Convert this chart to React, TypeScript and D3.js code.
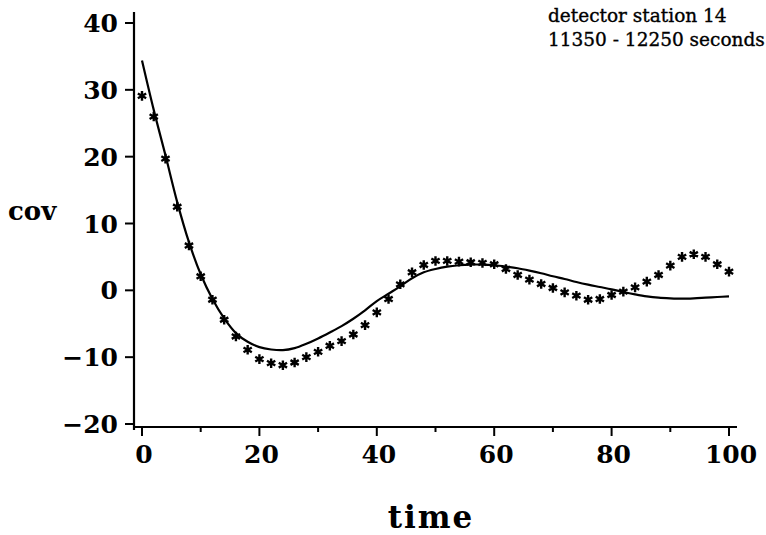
import React from "react";
import * as d3 from "d3";

const timeMarkers: number[] = [0,2,4,6,8,10,12,14,16,18,20,22,24,26,28,30,32,34,36,38,40,42,44,46,48,50,52,54,56,58,60,62,64,66,68,70,72,74,76,78,80,82,84,86,88,90,92,94,96,98,100];
const observedCov: number[] = [29.1,26.0,19.7,12.5,6.7,2.1,-1.4,-4.4,-6.9,-8.9,-10.3,-10.9,-11.2,-10.8,-10.0,-9.2,-8.3,-7.6,-6.6,-5.2,-3.3,-1.3,0.9,2.7,3.8,4.4,4.4,4.3,4.2,4.1,3.9,3.2,2.3,1.6,0.95,0.35,-0.3,-0.8,-1.4,-1.3,-0.7,-0.2,0.45,1.3,2.3,3.7,5.0,5.4,5.0,3.9,2.8];
const modelTime: number[] = [0,2,4,6,8,10,12,14,16,18,20,22,24,26,28,30,32,34,36,38,40,42,44,46,48,50,52,54,56,58,60,62,64,66,68,70,72,74,76,78,80,82,84,86,88,90,92,94,96,98,100];
const modelCov: number[] = [34.4,27.0,20.2,13.2,7.2,2.4,-1.3,-4.2,-6.4,-7.7,-8.5,-8.85,-8.95,-8.65,-8.0,-7.2,-6.3,-5.35,-4.25,-3.0,-1.6,-0.5,0.6,1.8,2.7,3.2,3.55,3.75,3.85,3.85,3.75,3.55,3.3,2.95,2.55,2.1,1.7,1.25,0.85,0.5,0.15,-0.25,-0.6,-0.9,-1.1,-1.2,-1.25,-1.2,-1.1,-1.0,-0.9];
const xTickValues: number[] = [0,20,40,60,80,100];
const xMinorTicks: number[] = [10,30,50,70,90];
const yTickValues: number[] = [-20,-10,0,10,20,30,40];
const annotationLines: string[] = ["detector station 14", "11350 - 12250 seconds"];
const xLabel = "time";
const yLabel = "cov";

const fmt = (v: number) => (v < 0 ? "\u2212" + Math.abs(v) : String(v));

export default function App() {
  const x = d3.scaleLinear().domain([0, 100]).range([142, 729]);
  const y = d3.scaleLinear().domain([-20, 40]).range([424, 23]);
  const axisX = 134;
  const axisY = 427;

  const line = d3
    .line<[number, number]>()
    .x((d) => x(d[0]))
    .y((d) => y(d[1]))
    .curve(d3.curveCatmullRom.alpha(0.5));
  const modelPts: [number, number][] = modelTime.map((t, i) => [t, modelCov[i]]);

  const r = 4.8;
  const star = (cx: number, cy: number, k: number) => {
    const segs = [90, 30, 150].map((a) => {
      const rad = (a * Math.PI) / 180;
      const dx = r * Math.cos(rad);
      const dy = r * Math.sin(rad);
      return `M${cx - dx},${cy - dy}L${cx + dx},${cy + dy}`;
    });
    return <path key={k} d={segs.join("")} stroke="#000" strokeWidth={2.4} fill="none" />;
  };

  const tickFont = "'DejaVu Serif', serif";

  return (
    <svg
      width={766}
      height={535}
      style={{ position: "absolute", left: 0, top: 0, background: "#fff" }}
    >
      <rect x={0} y={0} width={766} height={535} fill="#fff" />
      {/* axes */}
      <line x1={axisX} y1={12} x2={axisX} y2={axisY + 3} stroke="#000" strokeWidth={2.2} />
      <line x1={axisX} y1={axisY} x2={737} y2={axisY} stroke="#000" strokeWidth={2.2} />
      {yTickValues.map((v) => (
        <g key={"y" + v}>
          <line x1={axisX - 9} x2={axisX} y1={y(v)} y2={y(v)} stroke="#000" strokeWidth={2} />
          <text
            x={118}
            y={y(v) + 9}
            textAnchor="end"
            fontFamily={tickFont}
            fontWeight="bold"
            fontSize={25}
          >
            {fmt(v)}
          </text>
        </g>
      ))}
      {xTickValues.map((v) => (
        <g key={"x" + v}>
          <line x1={x(v)} x2={x(v)} y1={axisY} y2={axisY + 9} stroke="#000" strokeWidth={2} />
          <text
            x={x(v) + 2}
            y={463}
            textAnchor="middle"
            fontFamily={tickFont}
            fontWeight="bold"
            fontSize={25}
          >
            {fmt(v)}
          </text>
        </g>
      ))}
      {xMinorTicks.map((v) => (
        <line key={"m" + v} x1={x(v)} x2={x(v)} y1={axisY} y2={axisY + 5} stroke="#000" strokeWidth={2} />
      ))}
      {/* axis labels */}
      <text x={8} y={220} fontFamily={tickFont} fontWeight="bold" fontSize={26}>
        {yLabel}
      </text>
      <text
        x={431}
        y={528}
        textAnchor="middle"
        fontFamily={tickFont}
        fontWeight="bold"
        fontSize={31}
        letterSpacing={2}
      >
        {xLabel}
      </text>
      {/* annotation */}
      {annotationLines.map((s, i) => (
        <text
          key={"a" + i}
          x={548}
          y={22 + i * 24}
          fontFamily={tickFont}
          fontSize={18.5}
          stroke="#000"
          strokeWidth={0.35}
        >
          {s}
        </text>
      ))}
      {/* model curve */}
      <path d={line(modelPts) || ""} fill="none" stroke="#000" strokeWidth={2.2} />
      {/* observed markers */}
      {timeMarkers.map((t, i) => star(x(t), y(observedCov[i]), i))}
    </svg>
  );
}
